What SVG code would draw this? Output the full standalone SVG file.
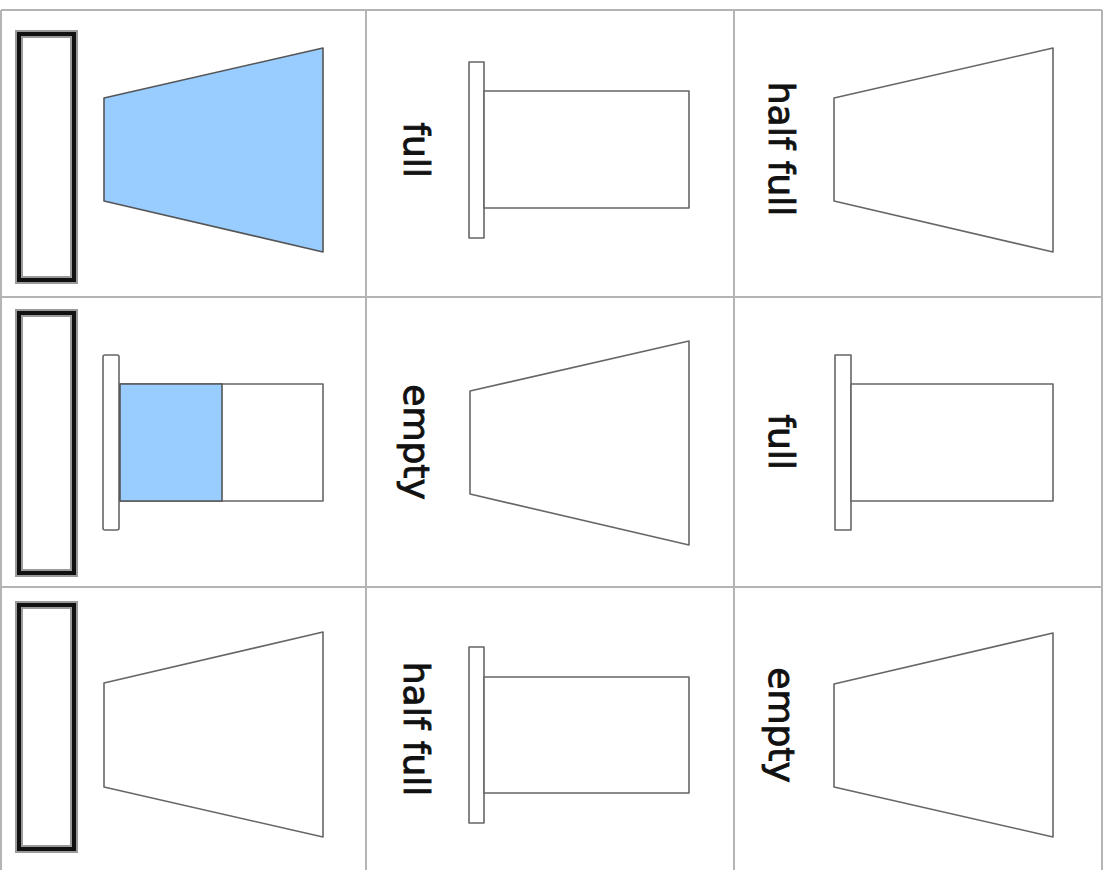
<svg xmlns="http://www.w3.org/2000/svg" width="1109" height="870" viewBox="0 0 1109 870">
<style>
.grid{stroke:#b4b4b4;stroke-width:2;fill:none}
.halo{fill:#fff;stroke:#9a9a9a;stroke-width:8}
.card{fill:none;stroke:#111;stroke-width:4}
.sh{fill:#fff;stroke:#666;stroke-width:1.6;stroke-linejoin:round}
.blue{fill:#99ccff;stroke:#555;stroke-width:1.6;stroke-linejoin:round}
.lbl{font-family:"DejaVu Sans","Liberation Sans",sans-serif;font-size:36px;fill:#111;stroke:#111;stroke-width:0.9;text-anchor:middle}
</style>
<rect width="1109" height="870" fill="#fff"/>
<g id="grid">
<path class="grid" d="M1,10 H1102 M1,297 H1102 M1,587 H1102 M1,10 V870 M366,10 V870 M734,10 V870 M1102,10 V870"/>
</g>
<g id="card-1"><rect class="halo" x="19" y="34" width="55" height="246"/><rect class="card" x="19" y="34" width="55" height="246"/></g>
<g id="card-2"><rect class="halo" x="19" y="313" width="55" height="260"/><rect class="card" x="19" y="313" width="55" height="260"/></g>
<g id="card-3"><rect class="halo" x="19" y="605" width="55" height="244"/><rect class="card" x="19" y="605" width="55" height="244"/></g>
<g id="r1c1"><polygon class="blue" points="104,98 323,48 323,252 104,201"/></g>
<g id="r1c2"><rect class="sh" x="469" y="62" width="15" height="176"/><rect class="sh" x="484" y="91" width="205" height="117"/><text class="lbl" transform="translate(404,150) rotate(90)">full</text></g>
<g id="r1c3"><polygon class="sh" points="834,98 1053,48 1053,252 834,201"/><text class="lbl" transform="translate(769,149) rotate(90)">half full</text></g>
<g id="r2c1"><rect class="sh" x="103" y="355" width="16" height="175" rx="2"/><rect class="sh" x="120" y="384" width="203" height="117"/><rect class="blue" x="120" y="384" width="102" height="117"/></g>
<g id="r2c2"><polygon class="sh" points="470,391 689,341 689,545 470,494"/><text class="lbl" transform="translate(404,442) rotate(90)">empty</text></g>
<g id="r2c3"><rect class="sh" x="835" y="355" width="16" height="175"/><rect class="sh" x="851" y="384" width="202" height="117"/><text class="lbl" transform="translate(769,442) rotate(90)">full</text></g>
<g id="r3c1"><polygon class="sh" points="104,683 323,632 323,837 104,787"/></g>
<g id="r3c2"><rect class="sh" x="469" y="647" width="15" height="176"/><rect class="sh" x="484" y="677" width="205" height="116"/><text class="lbl" transform="translate(404,729) rotate(90)">half full</text></g>
<g id="r3c3"><polygon class="sh" points="834,684 1053,633 1053,837 834,787"/><text class="lbl" transform="translate(769,725) rotate(90)">empty</text></g>
</svg>
